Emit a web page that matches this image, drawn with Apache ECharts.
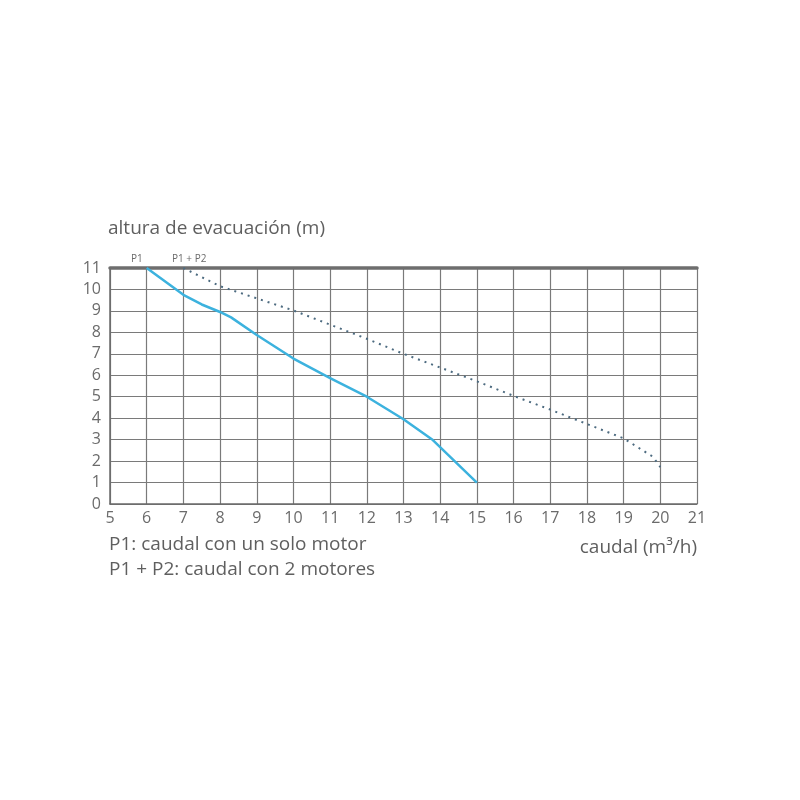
<!DOCTYPE html>
<html>
<head>
<meta charset="utf-8">
<script src="https://cdn.jsdelivr.net/npm/echarts@6/dist/echarts.min.js"></script>
<style>html,body{margin:0;padding:0;background:#fff;}#c{width:800px;height:800px;}</style>
</head>
<body>
<div id="c"></div>
<script>
// Data
const p1X = [6, 7, 7.5, 8, 8.3, 9, 10, 11, 12, 13, 13.8, 15];
const p1Y = [11, 9.75, 9.3, 8.95, 8.7, 7.88, 6.78, 5.87, 5.0, 3.95, 2.98, 1.0];
const p12X = [7, 8, 10, 12, 13, 14, 15, 16, 17, 18, 19, 19.8, 20];
const p12Y = [11, 10.15, 9.02, 7.7, 7.0, 6.36, 5.72, 5.04, 4.4, 3.73, 3.06, 2.2, 1.72];
const xTicks = [5, 6, 7, 8, 9, 10, 11, 12, 13, 14, 15, 16, 17, 18, 19, 20, 21];
const yTicks = [0, 1, 2, 3, 4, 5, 6, 7, 8, 9, 10, 11];
const yTitle = 'altura de evacuación (m)';
const xTitle = 'caudal (m³/h)';
const notes = ['P1: caudal con un solo motor', 'P1 + P2: caudal con 2 motores'];
const curveLabels = ['P1', 'P1 + P2'];

const FONT = 'Open Sans';
const chart = echarts.init(document.getElementById('c'));
const pair = (xs, ys) => xs.map((x, i) => [x, ys[i]]);

chart.setOption({
  animation: false,
  backgroundColor: '#fff',
  grid: { left: 110, right: 103, top: 268, bottom: 296 },
  xAxis: [{
    type: 'value', min: xTicks[0], max: xTicks[xTicks.length - 1], interval: 1,
    axisLine: { show: true, lineStyle: { color: '#6a6a6a', width: 1.5 } },
    axisTick: { show: false },
    axisLabel: { color: '#6b6b6b', fontSize: 16, fontFamily: FONT, margin: 6 },
    splitLine: { show: true, lineStyle: { color: '#7a7a7a', width: 1.2 } }
  }, {
    type: 'value', position: 'top', min: xTicks[0], max: xTicks[xTicks.length - 1], interval: 1,
    axisLine: { show: true, lineStyle: { color: '#6e6e6e', width: 3.5 } },
    axisTick: { show: false }, axisLabel: { show: false }, splitLine: { show: false }
  }],
  yAxis: [{
    type: 'value', min: yTicks[0], max: yTicks[yTicks.length - 1], interval: 1,
    axisLine: { show: true, lineStyle: { color: '#6a6a6a', width: 1.5 } },
    axisTick: { show: false },
    axisLabel: { color: '#6b6b6b', fontSize: 16, fontFamily: FONT, margin: 9 },
    splitLine: { show: true, lineStyle: { color: '#7a7a7a', width: 1.2 } }
  }],
  series: [{
    type: 'line', data: pair(p1X, p1Y), showSymbol: false, smooth: false,
    lineStyle: { color: '#3cb2de', width: 2.5 }, z: 5
  }, {
    type: 'line', data: pair(p12X, p12Y), showSymbol: false,
    lineStyle: { color: '#4d6b80', width: 2, type: [2, 5] }, z: 4
  }],
  graphic: [
    { type: 'text', left: 108, top: 219, style: { text: yTitle, fill: '#5f5f5f', font: '19px "' + FONT + '"' } },
    { type: 'text', right: 103, top: 538, style: { text: xTitle, fill: '#5f5f5f', font: '19px "' + FONT + '"' } },
    { type: 'text', left: 109, top: 535, style: { text: notes[0], fill: '#5f5f5f', font: '19px "' + FONT + '"' } },
    { type: 'text', left: 109, top: 560, style: { text: notes[1], fill: '#5f5f5f', font: '19px "' + FONT + '"' } },
    { type: 'text', left: 131, top: 254, style: { text: curveLabels[0], fill: '#6b6b6b', font: '10px "' + FONT + '"' } },
    { type: 'text', left: 172, top: 254, style: { text: curveLabels[1], fill: '#6b6b6b', font: '10px "' + FONT + '"' } }
  ]
});
</script>
</body>
</html>
